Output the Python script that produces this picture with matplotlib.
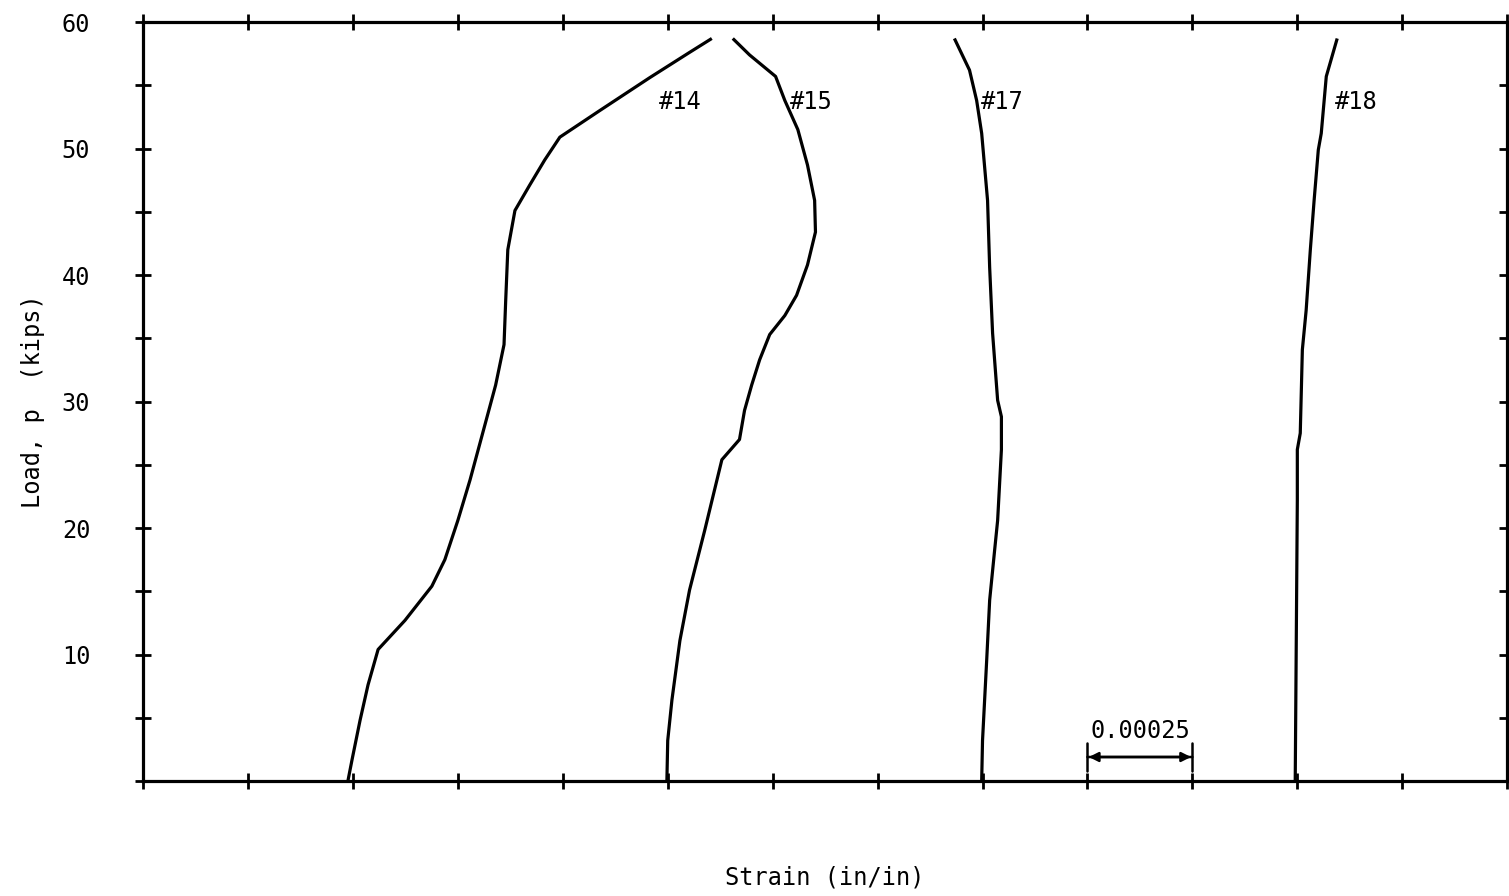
import matplotlib.pyplot as plt
from matplotlib.ticker import MultipleLocator, FixedLocator

# strain gauge readings (strain, load in kips)
load_14 = [0, 1.7, 4.8, 7.6, 10.4, 12.7, 15.4, 17.5, 20.6, 23.8, 28.1, 31.3,
           34.5, 38.0, 42.0, 45.1, 47.1, 49.1, 50.9, 53.0, 55.6, 57.6, 58.7]
strain_14 = [0.000488, 0.000498, 0.000517, 0.000536, 0.000560, 0.000624,
             0.000688, 0.000719, 0.000750, 0.000779, 0.000814, 0.000840,
             0.000860, 0.000864, 0.000869, 0.000886, 0.000921, 0.000957,
             0.000993, 0.001088, 0.001207, 0.001302, 0.001355]

load_15 = [0, 3.2, 6.4, 11.1, 15.1, 19.8, 25.4, 27.0, 29.3, 31.3, 33.3, 35.3,
           36.8, 38.4, 40.8, 43.4, 45.9, 48.7, 51.5, 53.8, 55.7, 57.4, 58.7]
strain_15 = [0.001248, 0.001250, 0.001260, 0.001279, 0.001302, 0.001338,
             0.001379, 0.001421, 0.001433, 0.001450, 0.001469, 0.001493,
             0.001529, 0.001557, 0.001583, 0.001602, 0.001600, 0.001583,
             0.001560, 0.001529, 0.001507, 0.001445, 0.001405]

load_17 = [0, 3.2, 6.4, 9.6, 14.3, 18.3, 20.6, 26.2, 28.8, 30.1, 35.4, 40.6,
           45.9, 51.2, 53.8, 56.2, 58.7]
strain_17 = [0.001998, 0.002000, 0.002005, 0.002010, 0.002017, 0.002029,
             0.002036, 0.002045, 0.002045, 0.002036, 0.002024, 0.002017,
             0.002012, 0.001998, 0.001986, 0.001969, 0.001933]

load_18 = [0, 22.2, 26.2, 27.5, 34.1, 37.2, 42.0, 45.9, 49.9, 51.2, 55.7, 58.7]
strain_18 = [0.002745, 0.002750, 0.002750, 0.002757, 0.002762, 0.002771,
             0.002781, 0.002790, 0.002800, 0.002807, 0.002819, 0.002845]

gauges = ["#14", "#15", "#17", "#18"]
label_x = [0.001230, 0.001540, 0.001997, 0.002840]
label_y = 53.7

scale_start = 0.00225
scale_len = 0.00025

font = "DejaVu Sans Mono"

fig = plt.figure(figsize=(15.09, 8.96), dpi=100)
ax = fig.add_axes([0.0948, 0.1283, 0.904, 0.8471])

for s, p in [(strain_14, load_14), (strain_15, load_15),
             (strain_17, load_17), (strain_18, load_18)]:
    ax.plot(s, p, color="black", lw=2.3, solid_capstyle="butt")

for name, lx in zip(gauges, label_x):
    ax.text(lx, label_y, name, fontsize=17, family=font, ha="left", va="center")

# scale bar
ax.annotate("", xy=(scale_start, 1.9), xytext=(scale_start + scale_len, 1.9),
            arrowprops=dict(arrowstyle="|-|", lw=1.8, color="black",
                            shrinkA=0, shrinkB=0, mutation_scale=10))
ax.annotate("", xy=(scale_start, 1.9), xytext=(scale_start + scale_len, 1.9),
            arrowprops=dict(arrowstyle="<|-|>", lw=1.8, color="black",
                            shrinkA=1, shrinkB=1, mutation_scale=14))
ax.text(scale_start + scale_len / 2, 3.0, f"{scale_len:.5f}", fontsize=17,
        family=font, ha="center", va="bottom")

ax.set_xlim(0, 13 * 0.00025)
ax.set_ylim(0, 60)
ax.xaxis.set_major_locator(MultipleLocator(0.00025))
ax.yaxis.set_major_locator(FixedLocator([10, 20, 30, 40, 50, 60]))
ax.yaxis.set_minor_locator(FixedLocator([0, 5, 15, 25, 35, 45, 55]))
ax.tick_params(axis="both", which="both", direction="inout", length=12,
               width=2, top=True, right=True)
ax.tick_params(axis="x", labelbottom=False)
ax.tick_params(axis="y", labelsize=17, pad=32)
for lab in ax.get_yticklabels():
    lab.set_family(font)
for sp in ax.spines.values():
    sp.set_linewidth(2.3)

ax.set_xlabel("Strain (in/in)", fontsize=17, family=font, labelpad=55)
ax.set_ylabel("Load, p  (kips)", fontsize=17, family=font, labelpad=12)

fig.savefig("out.png", dpi=100)
